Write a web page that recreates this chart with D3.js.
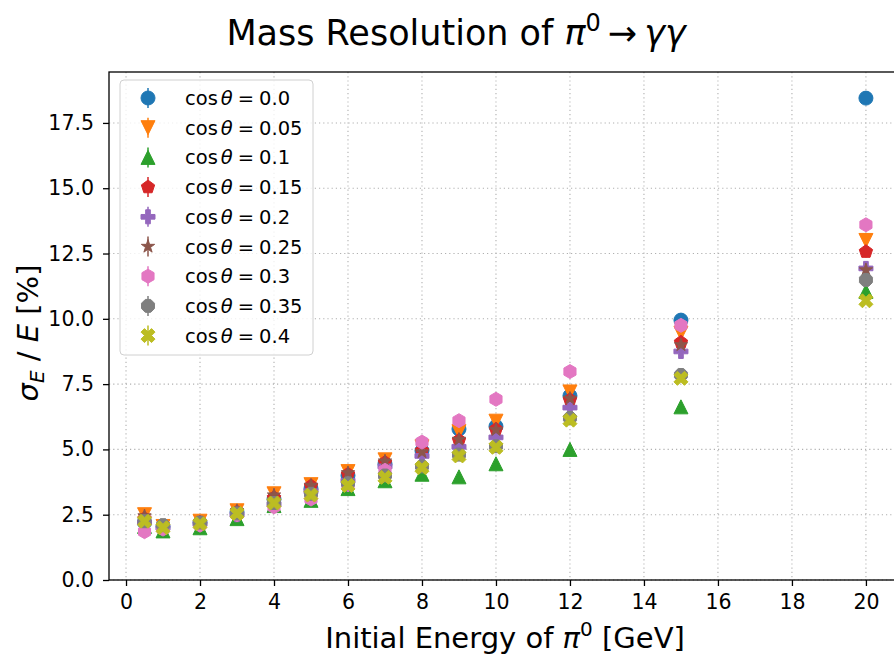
<!DOCTYPE html>
<html><head><meta charset="utf-8">
<script src="https://cdn.jsdelivr.net/npm/d3@7"></script>
<style>body{margin:0;background:#fff}svg{display:block;font-family:"DejaVu Sans",sans-serif}</style>
</head><body><svg id="c" width="894" height="655"></svg>
<script>
const energies = [0.5, 1, 2, 3, 4, 5, 6, 7, 8, 9, 10, 12, 15, 20];
const cosLabels = ["0.0","0.05","0.1","0.15","0.2","0.25","0.3","0.35","0.4"];
const s00  = [2.20, 2.05, 2.20, 2.60, 3.10, 3.50, 4.00, 4.45, 4.95, 5.78, 5.88, 7.05, 9.95, 18.45];
const s005 = [2.50, 2.05, 2.25, 2.65, 3.30, 3.65, 4.15, 4.60, 5.10, 5.68, 6.08, 7.20, 9.45, 13.00];
const s01  = [2.05, 1.88, 2.00, 2.35, 2.85, 3.05, 3.50, 3.80, 4.05, 3.95, 4.45, 5.00, 6.63, 11.05];
const s015 = [2.35, 2.05, 2.20, 2.60, 3.15, 3.60, 4.05, 4.50, 4.95, 5.35, 5.77, 6.90, 9.10, 12.57];
const s02  = [2.20, 2.00, 2.15, 2.50, 2.90, 3.40, 3.80, 4.35, 4.75, 5.10, 5.46, 6.60, 8.75, 11.93];
const s025 = [2.45, 2.05, 2.20, 2.65, 3.25, 3.62, 4.10, 4.55, 4.90, 5.38, 5.75, 6.95, 9.00, 11.87];
const s03  = [1.85, 1.95, 2.10, 2.50, 2.80, 3.10, 3.65, 4.20, 5.28, 6.10, 6.92, 7.98, 9.75, 13.60];
const s035 = [2.25, 2.10, 2.20, 2.55, 2.95, 3.30, 3.70, 4.00, 4.35, 4.80, 5.12, 6.20, 7.85, 11.49];
const s04  = [2.25, 2.00, 2.15, 2.55, 2.95, 3.25, 3.62, 3.93, 4.30, 4.75, 5.08, 6.12, 7.72, 10.69];
const seriesValues = [s00, s005, s01, s015, s02, s025, s03, s035, s04];
const xTicks = [0,2,4,6,8,10,12,14,16,18,20];
const yTicks = [0,2.5,5,7.5,10,12.5,15,17.5];

const colors = ["#1f77b4","#ff7f0e","#2ca02c","#d62728","#9467bd","#8c564b","#e377c2","#7f7f7f","#bcbd22"];
const markers = ["circle","tdown","tup","pent","plus","star","hex","oct","xfill"];

function poly(pts){return "M"+pts.map(p=>p[0].toFixed(2)+","+p[1].toFixed(2)).join("L")+"Z";}
function regular(n, r, rot){const a=[];for(let i=0;i<n;i++){const t=rot+i*2*Math.PI/n;a.push([r*Math.sin(t),-r*Math.cos(t)]);}return a;}
function markerPath(type, r){
  switch(type){
    case "circle": return `M${r},0A${r},${r} 0 1,1 ${-r},0A${r},${r} 0 1,1 ${r},0Z`;
    case "tdown": return poly([[0,r],[-r,-r],[r,-r]]);
    case "tup": return poly([[0,-r],[-r,r],[r,r]]);
    case "pent": return poly(regular(5,r,0));
    case "hex": return poly(regular(6,r,0));
    case "oct": return poly(regular(8,r,Math.PI/8));
    case "star": {const a=[];for(let i=0;i<10;i++){const rr=i%2?r*0.381966:r;const t=i*Math.PI/5;a.push([rr*Math.sin(t),-rr*Math.cos(t)]);}return poly(a);}
    case "plus": {const w=r/3;return poly([[-w,-r],[w,-r],[w,-w],[r,-w],[r,w],[w,w],[w,r],[-w,r],[-w,w],[-r,w],[-r,-w],[-w,-w]]);}
    case "xfill": {const h=r/2;return poly([[-h,-r],[0,-h],[h,-r],[r,-h],[h,0],[r,h],[h,r],[0,h],[-h,r],[-r,h],[-h,0],[-r,-h]]);}
  }
}

const svg = d3.select("#c");
const L=109, R=902, T=72, B=580;
const x = d3.scaleLinear().domain([-0.46, 20.975]).range([L, R]);
const y = d3.scaleLinear().domain([0, 19.45]).range([B, T]);

// grid
const grid = svg.append("g").attr("stroke","#b0b0b0").attr("stroke-width",1.1).attr("stroke-dasharray","1.2,3");
xTicks.forEach(t=>grid.append("line").attr("x1",x(t)).attr("x2",x(t)).attr("y1",T).attr("y2",B));
yTicks.forEach(t=>grid.append("line").attr("x1",L).attr("x2",R).attr("y1",y(t)).attr("y2",y(t)));

// axes
const xAxis = svg.append("g").attr("transform",`translate(0,${B})`)
  .call(d3.axisBottom(x).tickValues(xTicks).tickFormat(d3.format("d")).tickSize(6).tickPadding(8));
const yAxis = svg.append("g").attr("transform",`translate(${L},0)`)
  .call(d3.axisLeft(y).tickValues(yTicks).tickFormat(d3.format(".1f")).tickSize(6).tickPadding(9));
[xAxis,yAxis].forEach(a=>{a.select(".domain").remove();a.selectAll("text").attr("font-size",20.5).attr("font-family","DejaVu Sans").attr("fill","#000");a.selectAll("line").attr("stroke","#000").attr("stroke-width",1.3);});
// spines
svg.append("rect").attr("x",L).attr("y",T).attr("width",R-L).attr("height",B-T).attr("fill","none").attr("stroke","#000").attr("stroke-width",1.3);

// data
const MR=7;
seriesValues.forEach((vals,i)=>{
  svg.append("g").selectAll("path").data(vals).join("path")
    .attr("transform",(d,j)=>`translate(${x(energies[j])},${y(d)})`)
    .attr("d",markerPath(markers[i],MR))
    .attr("fill",colors[i]).attr("stroke",colors[i]).attr("stroke-width",1);
});

// legend
const lg = svg.append("g");
lg.append("rect").attr("x",120).attr("y",80).attr("width",193).attr("height",275).attr("rx",4)
  .attr("fill","#fff").attr("fill-opacity",0.8).attr("stroke","#d0d0d0").attr("stroke-width",1);
cosLabels.forEach((lab,i)=>{
  const cy = 98 + i*29.7;
  const g = lg.append("g").attr("transform",`translate(148,${cy})`);
  g.append("line").attr("x1",0).attr("x2",0).attr("y1",-10).attr("y2",10).attr("stroke",colors[i]).attr("stroke-width",1.5);
  g.append("path").attr("d",markerPath(markers[i],MR)).attr("fill",colors[i]).attr("stroke",colors[i]);
  const t = lg.append("text").attr("x",185).attr("y",cy+7).attr("font-size",19.5).attr("fill","#000");
  t.append("tspan").text("cos");
  t.append("tspan").attr("dx",3).attr("font-style","italic").text("θ");
  t.append("tspan").attr("dx",5).text("=");
  t.append("tspan").attr("dx",5).text(lab);
});

// title
const tt = svg.append("text").attr("x",456).attr("y",45).attr("text-anchor","middle").attr("font-size",35).attr("fill","#000");
tt.append("tspan").text("Mass Resolution of ");
tt.append("tspan").attr("font-style","italic").text("π");
tt.append("tspan").attr("font-size",24).attr("dy",-14).text("0");
tt.append("tspan").attr("dy",14).attr("dx",7).text("→");
tt.append("tspan").attr("dx",7).attr("font-style","italic").text("γγ");

// x label
const xl = svg.append("text").attr("x",505).attr("y",648).attr("text-anchor","middle").attr("font-size",29).attr("fill","#000");
xl.append("tspan").text("Initial Energy of ");
xl.append("tspan").attr("font-style","italic").text("π");
xl.append("tspan").attr("font-size",20).attr("dy",-12).text("0");
xl.append("tspan").attr("dy",12).text(" [GeV]");

// y label
const yl = svg.append("text").attr("transform",`translate(38,${(T+B)/2+7}) rotate(-90)`).attr("text-anchor","middle").attr("font-size",29).attr("fill","#000");
yl.append("tspan").attr("font-style","italic").text("σ");
yl.append("tspan").attr("font-style","italic").attr("font-size",20).attr("dy",6).text("E");
yl.append("tspan").attr("dy",-6).text(" / ");
yl.append("tspan").attr("font-style","italic").text("E");
yl.append("tspan").text(" [%]");
</script></body></html>
